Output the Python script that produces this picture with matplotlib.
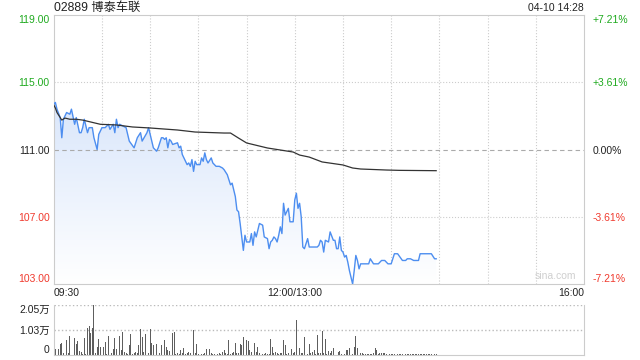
import numpy as np
import matplotlib.pyplot as plt
from matplotlib.colors import LinearSegmentedColormap
from matplotlib.patches import Polygon

plt.rcParams['font.family'] = ['Liberation Sans', 'Noto Sans CJK SC', 'DejaVu Sans']

## data (minutes after 09:30, lunch break removed)

prev_close = 111.0
title = '02889 博泰车联'
stamp = '04-10 14:28'

price_min = [0, 1, 2, 4, 5, 6, 8, 10, 11, 13, 14, 16, 17, 18, 19, 21, 22, 24, 25, 27,
             28, 30, 32, 34, 35, 37, 38, 39, 40, 41, 43, 45, 47, 50, 52, 54, 55, 58, 59, 60,
             62, 64, 65, 67, 68, 69, 70, 71, 72, 73, 74, 77, 78, 79, 80, 83, 84, 85, 86, 87,
             88, 89, 91, 92, 93, 94, 95, 96, 98, 99, 101, 103, 105, 106, 108, 109, 110, 111, 112, 113,
             114, 115, 116, 118, 119, 120, 122, 123, 124, 125, 126, 128, 130, 131, 133, 134, 135, 136, 137, 138,
             139, 140, 141, 142, 143, 144, 146, 147, 149, 150, 151, 152, 153, 154, 155, 156, 158, 159, 161, 164,
             165, 166, 167, 168, 169, 171, 172, 174, 175, 176, 177, 178, 179, 180, 181, 182, 183, 184, 186, 187,
             188, 189, 190, 191, 196, 197, 199, 202, 204, 206, 208, 210, 212, 214, 217, 219, 220, 222, 224, 227,
             228, 235, 237, 238]
price = [113.7, 113.8, 113.4, 112.9, 111.7, 112.8, 113.2, 113.1, 113.4, 112.5, 112.9, 112.0, 112.0, 112.3, 112.8, 112.0, 112.3, 112.3, 111.7, 111.0,
         111.9, 112.3, 112.3, 112.5, 112.2, 112.5, 112.0, 112.8, 112.3, 112.5, 112.4, 112.3, 111.5, 111.1, 111.7, 112.0, 111.5, 112.0, 112.3, 111.9,
         111.1, 110.9, 111.1, 111.7, 111.7, 111.6, 111.7, 111.1, 111.6, 111.5, 111.3, 111.4, 111.1, 111.2, 110.7, 110.1, 110.2, 110.0, 110.4, 109.7,
         110.3, 110.1, 110.1, 110.5, 110.3, 110.8, 110.4, 110.2, 110.5, 110.2, 110.0, 110.0, 109.9, 109.8, 109.5, 109.2, 108.9, 109.0, 108.6, 108.2,
         107.4, 107.3, 106.6, 105.0, 105.9, 105.5, 105.5, 106.0, 105.3, 106.1, 105.8, 106.6, 106.5, 105.8, 105.7, 105.1, 105.5, 105.6, 105.8, 105.7,
         105.5, 105.9, 106.4, 106.0, 107.8, 107.1, 107.5, 106.7, 106.7, 108.0, 108.4, 107.5, 107.8, 107.0, 105.2, 105.1, 105.7, 105.2, 105.2, 105.2,
         105.3, 105.6, 105.5, 104.9, 105.6, 105.5, 106.1, 105.6, 105.6, 105.1, 105.1, 105.8, 105.0, 104.9, 104.6, 104.7, 104.3, 103.8, 103.0, 103.8,
         104.7, 104.4, 103.9, 104.2, 104.2, 104.5, 104.2, 104.2, 104.4, 104.4, 104.2, 104.2, 104.8, 104.8, 104.4, 104.4, 104.5, 104.5, 104.4, 104.4,
         104.8, 104.8, 104.5, 104.5]

avg_min = [0, 1, 2, 5, 7, 10, 14, 18, 29, 39, 49, 60, 77, 88, 106, 110, 113, 115, 120, 133,
           141, 149, 153, 159, 167, 180, 186, 191, 207, 215, 238]
avg_price = [113.65, 113.47, 113.2, 112.75, 112.87, 112.8, 112.8, 112.75, 112.5, 112.46, 112.34, 112.28, 112.16, 112.04, 111.98, 111.98, 111.8, 111.68, 111.39, 111.09,
             110.97, 110.85, 110.67, 110.55, 110.26, 110.08, 109.9, 109.84, 109.78, 109.76, 109.74]

volume = [2300, 2300, 3400, 2500, 4500, 5000, 1000, 300, 6100, 700,
          7800, 200, 300, 6800, 4500, 5700, 1600, 1300, 300, 6800,
          400, 11200, 11900, 8900, 11000, 20500, 700, 3100, 6400, 3100,
          7200, 3400, 5500, 400, 7800, 6800, 700, 2300, 6800, 2300,
          7800, 7800, 2000, 9300, 1300, 700, 300, 4100, 8600, 400,
          900, 1300, 700, 4100, 10500, 7200, 1300, 8600, 5700, 700,
          10500, 5000, 4100, 400, 4500, 100, 700, 4100, 5500, 6100,
          3400, 2000, 1800, 200, 9200, 9300, 400, 700, 400, 2000,
          700, 2700, 400, 900, 1300, 900, 400, 10200, 700, 4500,
          400, 300, 300, 400, 700, 2300, 6400, 2300, 700, 400,
          400, 700, 300, 700, 400, 1300, 2000, 700, 400, 6100,
          400, 700, 1300, 5000, 700, 900,
          4500, 4100, 7200, 5000, 6100, 5700, 2000, 1300, 900, 4800,
          1300, 3100, 700, 900, 400, 300, 900, 400, 400, 6400,
          3100, 700, 1300, 700, 300, 900, 900, 6100, 4100, 400,
          700, 900, 2500, 900, 1300, 14400, 3700, 3000, 700, 700,
          7500, 3700, 400, 4500, 700, 1300, 2000, 400, 8200, 700,
          700, 10000, 700, 6600, 400, 1600, 700, 1800, 2700, 400,
          100, 1300, 1600, 400, 1300, 300, 2000, 2000, 2700, 700,
          400, 3400, 7800, 2700, 900, 700, 700, 400, 400, 400,
          400, 400, 400, 700, 2700, 2000, 400, 900, 700, 700,
          700, 400,
          500, 300, 400, 600, 300, 400, 500, 300, 600, 400,
          300, 500, 400, 300, 600, 400, 300, 500, 400, 300,
          400, 500, 300, 400, 300, 500, 400, 300, 400, 300, 400]

y_ticks = [103, 107, 111, 115, 119]
pct_labels = ['-7.21%', '-3.61%', '0.00%', '+3.61%', '+7.21%']
vol_ticks = [0, 10260, 20520]
vol_labels = ['0', '1.03万', '2.05万']
x_labels = [(0, '09:30', 'left'), (150, '12:00/13:00', 'center'), (330, '16:00', 'right')]

green, red, dark = '#1faa1f', '#f03a2e', '#222222'
grid_c = '#cccccc'

def level_color(p):
    if p > prev_close:
        return green
    if p < prev_close:
        return red
    return dark

def edge_align(labels):
    # first label sits above the bottom edge, last one hangs below the top
    labels[0].set_va('bottom')
    labels[-1].set_va('top')

fig = plt.figure(figsize=(6.4, 3.6), dpi=100)
ax = fig.add_axes([0.084, 0.2111, 0.8285, 0.7472])
ax.set_xlim(0, 330)
ax.set_ylim(y_ticks[0], y_ticks[-1])

# gradient fill under the price line
verts = [(price_min[0], y_ticks[0])] + list(zip(price_min, price)) + [(price_min[-1], y_ticks[0])]
clip = Polygon(verts, closed=True, facecolor='none', edgecolor='none')
ax.add_patch(clip)
cmap = LinearSegmentedColormap.from_list('fade', ['#ffffff', '#d9e6fb'])
grad = np.linspace(0, 1, 256).reshape(-1, 1)
im = ax.imshow(grad, extent=[0, 330, y_ticks[0], 113.9], origin='lower',
               aspect='auto', cmap=cmap, zorder=1)
im.set_clip_path(clip)

ax.plot(price_min, price, color='#4d8ef0', lw=1.0, zorder=3)
ax.plot(avg_min, avg_price, color='#333333', lw=0.9, zorder=3)

for x in range(30, 330, 30):
    ax.axvline(x, color=grid_c, ls=':', lw=0.8, zorder=0)
for y in y_ticks[1:-1]:
    if y == prev_close:
        ax.axhline(y, color='#aaaaaa', ls=(0, (4, 3)), lw=0.8, zorder=2)
    else:
        ax.axhline(y, color=grid_c, ls=':', lw=0.8, zorder=0)

for s in ax.spines.values():
    s.set_color(grid_c)
ax.set_xticks([])
ax.set_yticks(y_ticks)
ax.set_yticklabels(['%.2f' % y for y in y_ticks], fontsize=7.5)
ax.tick_params(axis='y', length=0, pad=3)
for lab, y in zip(ax.get_yticklabels(), y_ticks):
    lab.set_color(level_color(y))
edge_align(ax.get_yticklabels())

ax2 = ax.twinx()
ax2.set_ylim(ax.get_ylim())
ax2.set_yticks(y_ticks)
ax2.set_yticklabels(pct_labels, fontsize=7.5)
ax2.tick_params(axis='y', length=0, pad=6)
for lab, y in zip(ax2.get_yticklabels(), y_ticks):
    lab.set_color(level_color(y))
edge_align(ax2.get_yticklabels())
for s in ax2.spines.values():
    s.set_visible(False)

for x, txt, ha in x_labels:
    ax.text(x, -0.015, txt, transform=ax.get_xaxis_transform(), ha=ha, va='top',
            fontsize=7.5, color=dark)
ax.text(0.985, 0.012, 'sina.com', transform=ax.transAxes, ha='right', va='bottom',
        fontsize=7.5, color='#cfcfcf')

fig.text(0.084, 1 - 7.5 / 360, title, ha='left', va='center', fontsize=8.8, color=dark)
fig.text(0.9125, 1 - 8 / 360, stamp, ha='right', va='center', fontsize=7.5, color=dark)

## volume panel
vax = fig.add_axes([0.084, 0.0139, 0.8285, 0.1389])
vax.bar(np.arange(len(volume)), volume, width=0.55, color='#5e5e5e', zorder=2)
vax.set_xlim(0, 330)
vax.set_ylim(0, vol_ticks[-1])
for v in vol_ticks[1:]:
    vax.axhline(v, color='#bbbbbb', ls=':', lw=1.0, zorder=1)
vax.set_xticks([])
vax.set_yticks(vol_ticks)
vax.set_yticklabels(vol_labels, fontsize=7.5, color=dark)
vax.tick_params(axis='y', length=0, pad=3)
edge_align(vax.get_yticklabels())
vax.spines['top'].set_visible(False)
for k in ('left', 'right', 'bottom'):
    vax.spines[k].set_color(grid_c)

fig.savefig('out.png', dpi=100)
